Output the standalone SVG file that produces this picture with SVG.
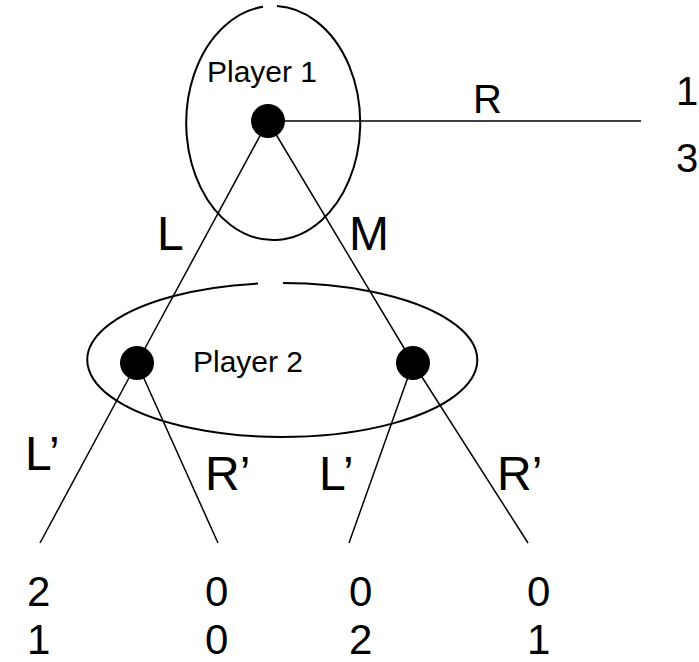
<svg xmlns="http://www.w3.org/2000/svg" width="699" height="662" viewBox="0 0 699 662">
<style>
.set{fill:none;stroke:#000;stroke-width:2}
.edge{stroke:#000;stroke-width:1.5;fill:none}
.dot{fill:#000}
text{font-family:"Liberation Sans",Arial,sans-serif;fill:#000}
.pl{font-size:30px}
.lab{font-size:48px}
.num{font-size:42px}
</style>
<rect width="699" height="662" fill="#fff"/>
<g id="connectors">
<line class="edge" x1="268" y1="121" x2="641" y2="121"/>
<line class="edge" x1="268" y1="121" x2="137" y2="363"/>
<line class="edge" x1="268" y1="121" x2="413" y2="363"/>
<line class="edge" x1="137" y1="363" x2="40" y2="543"/>
<line class="edge" x1="137" y1="363" x2="218" y2="543"/>
<line class="edge" x1="413" y1="363" x2="349" y2="543"/>
<line class="edge" x1="413" y1="363" x2="528" y2="543"/>
</g>
<g id="info-set-1">
<path class="set" d="M 277 6.1 A 87 117 0 1 1 263 6.8"/>
<text class="pl" x="207" y="82">Player 1</text>
</g>
<g id="info-set-2">
<path class="set" d="M 283 283 A 195 77 0 1 1 258 283.6"/>
<text class="pl" x="193" y="372">Player 2</text>
</g>
<g id="node-p1"><circle class="dot" cx="268" cy="121" r="17"/></g>
<g id="node-p2-left"><circle class="dot" cx="137" cy="363" r="17"/></g>
<g id="node-p2-right"><circle class="dot" cx="413" cy="363" r="17"/></g>
<g id="labels">
<text x="473" y="113" style="font-size:40px">R</text>
<text class="lab" x="157" y="250">L</text>
<text class="lab" x="349" y="250">M</text>
<text class="lab" x="25" y="470">L’</text>
<text class="lab" x="205" y="490">R’</text>
<text class="lab" x="319" y="490">L’</text>
<text class="lab" x="497" y="490">R’</text>
</g>
<g id="payoffs">
<text x="676" y="105" style="font-size:40px">1</text>
<text x="676" y="172" style="font-size:40px">3</text>
<text class="num" x="27" y="606">2</text>
<text class="num" x="205" y="606">0</text>
<text class="num" x="349" y="606">0</text>
<text class="num" x="527" y="606">0</text>
<text class="num" x="27" y="654">1</text>
<text class="num" x="205" y="654">0</text>
<text class="num" x="349" y="654">2</text>
<text class="num" x="527" y="654">1</text>
</g>
</svg>
